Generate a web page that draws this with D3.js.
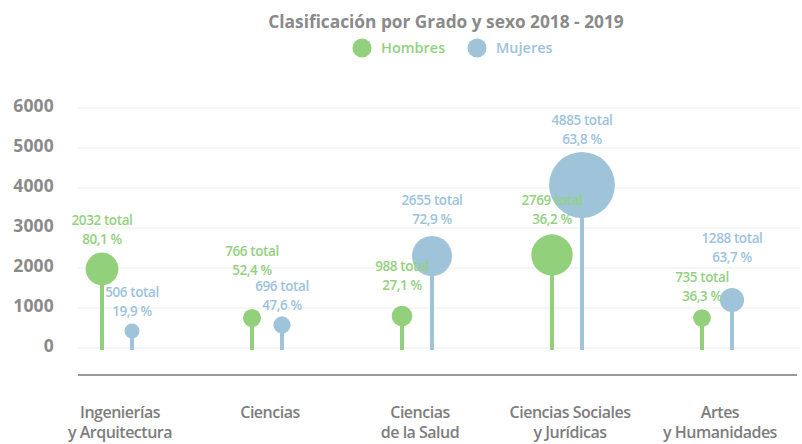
<!DOCTYPE html>
<html>
<head>
<meta charset="utf-8">
<script src="https://cdn.jsdelivr.net/npm/d3@7"></script>
<style>
  body { margin: 0; background: #fff; }
  text { font-family: "Open Sans", "Noto Sans", sans-serif; }
</style>
</head>
<body>
<div id="chart"></div>
<script>
// datos
var categories = [["Ingenierías", "y Arquitectura"], ["Ciencias"], ["Ciencias", "de la Salud"], ["Ciencias Sociales", "y Jurídicas"], ["Artes", "y Humanidades"]];
var hombresTotal = [2032, 766, 988, 2769, 735];
var mujeresTotal = [506, 696, 2655, 4885, 1288];
var hombresPct = ["80,1", "52,4", "27,1", "36,2", "36,3"];
var mujeresPct = ["19,9", "47,6", "72,9", "63,8", "63,7"];
// altura del círculo
var hombresPos = [1975, 750, 800, 2325, 750];
var mujeresPos = [425, 575, 2300, 4075, 1200];
// altura de la etiqueta
var hombresLab = [3200, 2425, 2050, 3700, 1780];
var mujeresLab = [1400, 1550, 3700, 5700, 2750];
var yTicks = [0, 1000, 2000, 3000, 4000, 5000, 6000];

var w = 802, h = 444;
var green = "#92d07b", blue = "#9fc4d9";
var greenTxt = "#94d17f", blueTxt = "#9dc3dc";
var gray = "#8a8a8a";

var svg = d3.select("#chart").append("svg").attr("width", w).attr("height", h);

var keys = categories.map(function(c, i) { return i; });
var xScale = d3.scalePoint().domain(keys).range([117, 717]);
var yScale = d3.scaleLinear().domain([0, 6000]).range([348, 108]);
var rScale = d3.scaleLinear().domain([500, 4900]).range([7.5, 33]);
var off = 15;

// titulo
svg.append("text").attr("x", 446).attr("y", 22).attr("text-anchor", "middle").attr("dy", ".35em")
  .attr("font-size", 17.3).attr("font-weight", 700).attr("fill", gray)
  .text("Clasificación por Grado y sexo 2018 - 2019");

// leyenda
var legend = [{name: "Hombres", c: green, t: greenTxt, x: 362}, {name: "Mujeres", c: blue, t: blueTxt, x: 477}];
svg.selectAll(".leg").data(legend).enter().append("circle")
  .attr("cx", function(d) { return d.x; }).attr("cy", 48).attr("r", 9.5).attr("fill", function(d) { return d.c; });
svg.selectAll(".legt").data(legend).enter().append("text")
  .attr("x", function(d) { return d.x + 19; }).attr("y", 48).attr("dy", ".35em")
  .attr("font-size", 14.5).attr("font-weight", 600).attr("fill", function(d) { return d.t; })
  .text(function(d) { return d.name; });

// lineas de fondo
svg.selectAll(".grid").data(yTicks).enter().append("line")
  .attr("x1", 78).attr("x2", 800).attr("y1", yScale).attr("y2", yScale)
  .attr("stroke", "#eeeeee").attr("stroke-width", 1.2);

// eje y
svg.selectAll(".ytick").data(yTicks).enter().append("text")
  .attr("x", 54).attr("y", function(d) { return yScale(d) - 2; }).attr("dy", ".35em").attr("text-anchor", "end")
  .attr("font-size", 17.5).attr("font-weight", 700).attr("fill", gray).attr("letter-spacing", 0.2)
  .text(function(d) { return d; });

// eje x
svg.append("line").attr("x1", 78).attr("x2", 797).attr("y1", 375).attr("y2", 375)
  .attr("stroke", "#9a9a9a").attr("stroke-width", 2);

var series = [
  {pos: hombresPos, lab: hombresLab, tot: hombresTotal, pct: hombresPct, dx: -off, c: green, t: greenTxt},
  {pos: mujeresPos, lab: mujeresLab, tot: mujeresTotal, pct: mujeresPct, dx: off, c: blue, t: blueTxt}
];

// piruletas
series.forEach(function(s) {
  svg.selectAll(".stem").data(keys).enter().append("line")
    .attr("x1", function(i) { return xScale(i) + s.dx; }).attr("x2", function(i) { return xScale(i) + s.dx; })
    .attr("y1", function(i) { return yScale(s.pos[i]); }).attr("y2", yScale(0) + 2)
    .attr("stroke", s.c).attr("stroke-width", 4);
  svg.selectAll(".dot").data(keys).enter().append("circle")
    .attr("cx", function(i) { return xScale(i) + s.dx; }).attr("cy", function(i) { return yScale(s.pos[i]); })
    .attr("r", function(i) { return rScale(s.tot[i]); }).attr("fill", s.c);
});

// etiquetas
series.forEach(function(s) {
  svg.selectAll(".lab1").data(keys).enter().append("text")
    .attr("x", function(i) { return xScale(i) + s.dx; }).attr("y", function(i) { return yScale(s.lab[i]); })
    .attr("dy", ".35em").attr("text-anchor", "middle")
    .attr("font-size", 13.5).attr("font-weight", 600).attr("fill", s.t).attr("letter-spacing", -0.4)
    .text(function(i) { return s.tot[i] + " total"; });
  svg.selectAll(".lab2").data(keys).enter().append("text")
    .attr("x", function(i) { return xScale(i) + s.dx; }).attr("y", function(i) { return yScale(s.lab[i]) + 19; })
    .attr("dy", ".35em").attr("text-anchor", "middle")
    .attr("font-size", 13.5).attr("font-weight", 600).attr("fill", s.t).attr("letter-spacing", -0.4)
    .text(function(i) { return s.pct[i] + " %"; });
});

// categorias
var catText = svg.selectAll(".cat").data(keys).enter().append("text")
  .attr("x", function(i) { return xScale(i) + 3; }).attr("y", 412).attr("text-anchor", "middle")
  .attr("font-size", 16).attr("font-weight", 600).attr("fill", "#7d7d7d").attr("letter-spacing", -0.5);
catText.selectAll("tspan").data(function(i) { return categories[i]; }).enter().append("tspan")
  .attr("x", function() { return d3.select(this.parentNode).attr("x"); })
  .attr("dy", function(d, j) { return j === 0 ? ".35em" : "1.25em"; })
  .text(function(d) { return d; });
</script>
</body>
</html>
